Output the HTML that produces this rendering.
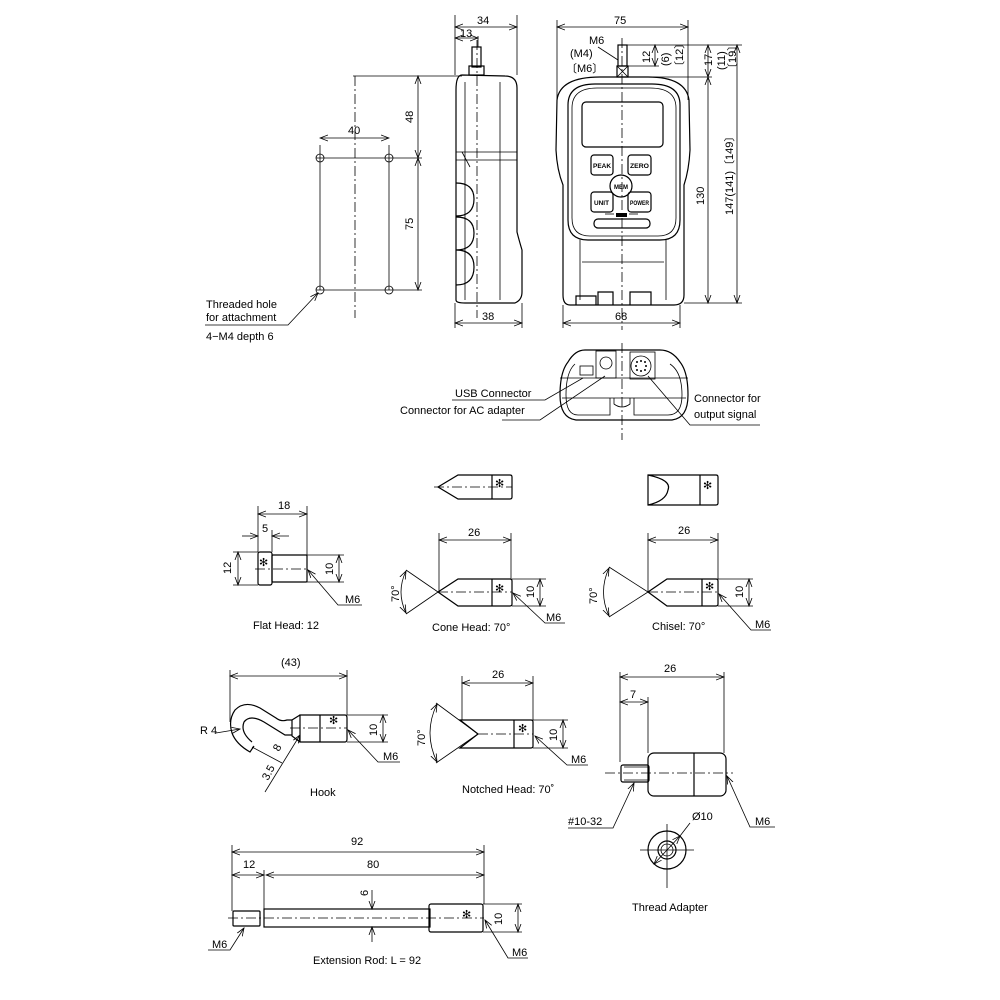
<!DOCTYPE html>
<html><head><meta charset="utf-8"><style>
html,body{margin:0;padding:0;background:#fff}
svg{display:block}
text{font-family:"Liberation Sans",sans-serif;font-size:11px;fill:#000}
.s{stroke:#000;stroke-width:1.2;fill:none}
.t{stroke:#000;stroke-width:0.8;fill:none}
.c{stroke:#000;stroke-width:0.8;fill:none;stroke-dasharray:10 3 2 3}
.d{stroke:#000;stroke-width:0.8;fill:none;marker-start:url(#a);marker-end:url(#a)}
.e{stroke:#000;stroke-width:0.8;fill:none;marker-end:url(#a)}
.b{font-size:6px;font-weight:bold}
</style></head><body>
<svg width="1000" height="1000" viewBox="0 0 1000 1000" xmlns="http://www.w3.org/2000/svg">
<defs><marker id="a" markerWidth="9" markerHeight="7" refX="8" refY="3.5" orient="auto-start-reverse" markerUnits="userSpaceOnUse"><path d="M0,0.5 L8,3.5 L0,6.5" fill="none" stroke="#000" stroke-width="0.8"/></marker></defs>

<!-- ===== Mount pattern ===== -->
<line class="t" x1="353" y1="76" x2="462" y2="76"/>
<line class="c" x1="355" y1="76" x2="355" y2="318"/>
<line class="t" x1="316" y1="158" x2="422" y2="158"/>
<line class="t" x1="316" y1="290" x2="422" y2="290"/>
<line class="t" x1="320" y1="145" x2="320" y2="290"/>
<line class="t" x1="389" y1="145" x2="389" y2="290"/>
<circle class="t" cx="320" cy="158" r="4"/><circle class="t" cx="389" cy="158" r="4"/>
<circle class="t" cx="320" cy="290" r="4"/><circle class="t" cx="389" cy="290" r="4"/>
<line class="d" x1="320" y1="138" x2="389" y2="138"/><text x="348" y="134" font-size="12">40</text>
<line class="d" x1="418" y1="76" x2="418" y2="158"/><text transform="translate(413,123) rotate(-90)" font-size="12">48</text>
<line class="d" x1="418" y1="158" x2="418" y2="290"/><text transform="translate(413,230) rotate(-90)" font-size="12">75</text>
<polyline class="e" points="205,325 288,325 318,293"/>
<text x="206" y="308">Threaded hole</text><text x="206" y="321">for attachment</text><text x="206" y="340">4−M4 depth 6</text>

<!-- ===== Side view ===== -->
<path class="s" d="M462,75 Q456,75 456,90 L456,300 Q456,303 465,303 L515,303 Q522,300 522,292 L522,250 Q519,240 517,232 L517,88 Q517,76 505,76 Z"/>
<rect class="s" x="472" y="47" width="9" height="20"/><rect class="s" x="469" y="66" width="15" height="9"/>
<line class="c" x1="477" y1="40" x2="477" y2="318"/>
<line class="t" x1="465" y1="82" x2="465" y2="300"/><line class="t" x1="500" y1="82" x2="500" y2="300"/>
<line class="t" x1="456" y1="152" x2="517" y2="152"/><line class="t" x1="456" y1="160" x2="517" y2="160"/>
<line class="t" x1="462" y1="152" x2="470" y2="167"/>
<path class="s" d="M456,183 Q474,183 474,199 Q474,216 456,216 M456,217 Q474,217 474,233 Q474,250 456,250 M456,250 Q474,250 474,267 Q474,285 456,285"/>
<line class="t" x1="455" y1="15" x2="455" y2="75"/><line class="t" x1="517" y1="15" x2="517" y2="75"/>
<line class="d" x1="455" y1="27" x2="517" y2="27"/><text x="477" y="24" font-size="12">34</text>
<line class="t" x1="478" y1="36" x2="478" y2="47"/>
<line class="d" x1="455" y1="38" x2="478" y2="38"/><text x="460" y="37" font-size="12">13</text>
<line class="t" x1="455" y1="303" x2="455" y2="328"/><line class="t" x1="522" y1="303" x2="522" y2="328"/>
<line class="d" x1="455" y1="323" x2="522" y2="323"/><text x="482" y="320" font-size="12">38</text>

<!-- ===== Front view ===== -->
<path class="s" d="M600,77 L648,77 Q686,77 689,100 L690,150 Q689,170 684,185 L684,295 Q684,305 674,305 L570,305 Q563,305 563,295 L563,185 Q557,170 556,150 L557,100 Q560,77 600,77 Z"/>
<path class="s" d="M595,84 L652,84 Q680,84 680,105 L680,220 Q680,240 660,240 L588,240 Q568,240 568,220 L568,105 Q568,84 595,84 Z"/>
<path class="t" d="M597,88 L650,88 Q676,88 676,108 L676,218 Q676,236 658,236 L590,236 Q572,236 572,218 L572,108 Q572,88 597,88 Z"/>
<rect class="s" x="582" y="102" width="81" height="45" rx="4"/>
<rect class="s" x="591" y="155" width="22" height="20" rx="3"/><text x="593" y="168" class="b" textLength="18" lengthAdjust="spacingAndGlyphs">PEAK</text>
<rect class="s" x="628" y="155" width="23" height="20" rx="3"/><text x="630" y="168" class="b" textLength="19" lengthAdjust="spacingAndGlyphs">ZERO</text>
<circle class="s" cx="621" cy="186" r="11" fill="#fff"/><text x="614" y="189" class="b" textLength="14" lengthAdjust="spacingAndGlyphs">MEM</text>
<rect class="s" x="591" y="192" width="22" height="20" rx="3"/><text x="594" y="205" class="b" textLength="15" lengthAdjust="spacingAndGlyphs">UNIT</text>
<rect class="s" x="628" y="192" width="23" height="20" rx="3"/><text x="630" y="205" class="b" textLength="19" lengthAdjust="spacingAndGlyphs">POWER</text>
<rect x="616" y="213" width="11" height="4" fill="#000"/>
<line class="t" x1="605" y1="214" x2="614" y2="214"/><line class="t" x1="629" y1="214" x2="638" y2="214"/>
<rect class="s" x="594" y="219" width="56" height="9" rx="4"/>
<path class="t" d="M580,240 L580,300 M666,240 L666,300 M582,262 L664,262"/>
<path class="s" d="M576,305 L576,296 L596,296 L596,305 M598,305 L598,292 L613,292 L613,305 M630,305 L630,292 L651,292 L651,305"/>
<rect class="s" x="618" y="45" width="9" height="21"/><rect class="s" x="617" y="66" width="11" height="11"/>
<path class="t" d="M617,66 L628,77 M628,66 L617,77"/>
<line class="c" x1="622" y1="38" x2="622" y2="330"/>
<line class="t" x1="557" y1="20" x2="557" y2="100"/><line class="t" x1="688" y1="20" x2="688" y2="100"/>
<line class="d" x1="557" y1="27" x2="688" y2="27"/><text x="614" y="24" font-size="12">75</text>
<text x="589" y="44" font-size="12">M6</text><line class="t" x1="598" y1="47" x2="618" y2="60"/>
<text x="570" y="57" font-size="12">(M4)</text><text x="566" y="72" font-size="12">〔M6〕</text>
<line class="t" x1="627" y1="45" x2="742" y2="45"/><line class="t" x1="630" y1="77" x2="712" y2="77"/>
<line class="d" x1="655" y1="45" x2="655" y2="66"/><line class="t" x1="627" y1="66" x2="659" y2="66"/>
<text transform="translate(650,63) rotate(-90)" font-size="11">12</text>
<text transform="translate(669,66) rotate(-90)" font-size="11">(6)</text>
<text transform="translate(683,72) rotate(-90)" font-size="11">〔12〕</text>
<line class="d" x1="708" y1="45" x2="708" y2="77"/>
<text transform="translate(712,66) rotate(-90)" font-size="11">17</text>
<text transform="translate(725,70) rotate(-90)" font-size="11">(11)</text>
<text transform="translate(736,74) rotate(-90)" font-size="11">〔19〕</text>
<line class="d" x1="708" y1="77" x2="708" y2="303"/>
<text transform="translate(704,205) rotate(-90)" font-size="12">130</text>
<line class="d" x1="737" y1="45" x2="737" y2="303"/>
<text transform="translate(733,215) rotate(-90)" font-size="12">147(141)〔149〕</text>
<line class="t" x1="684" y1="303" x2="742" y2="303"/>
<line class="t" x1="563" y1="305" x2="563" y2="328"/><line class="t" x1="680" y1="305" x2="680" y2="328"/>
<line class="d" x1="563" y1="323" x2="680" y2="323"/><text x="615" y="320" font-size="12">68</text>

<!-- ===== Bottom view ===== -->
<path class="s" d="M585,350 L660,350 Q672,350 680,362 Q688,372 688,395 Q688,418 672,420 L576,420 Q560,418 560,395 Q560,372 568,362 Q575,350 585,350 Z"/>
<path class="t" d="M575,364 Q566,372 566,395 Q566,415 578,415 L610,415 L610,398 M670,364 Q682,372 682,395 Q682,415 668,415 L634,415 L634,398 M560,378 L688,378 M562,398 L686,398"/>
<path class="t" d="M614,398 L614,404 Q622,410 630,404 L630,398"/>
<rect class="t" x="580" y="366" width="13" height="9"/><rect class="t" x="596" y="351" width="20" height="27"/>
<circle class="t" cx="606" cy="363" r="6"/>
<rect class="t" x="630" y="352" width="25" height="27"/><circle class="t" cx="641" cy="366" r="10"/>
<g fill="#000"><circle cx="637" cy="362" r="1"/><circle cx="641" cy="361" r="1"/><circle cx="645" cy="362" r="1"/><circle cx="636" cy="366" r="1"/><circle cx="646" cy="366" r="1"/><circle cx="637" cy="370" r="1"/><circle cx="641" cy="371" r="1"/><circle cx="645" cy="370" r="1"/></g>
<line class="c" x1="622" y1="343" x2="622" y2="440"/>
<text x="455" y="397" font-size="12">USB Connector</text><text x="400" y="414" font-size="12">Connector for AC adapter</text>
<polyline class="t" points="452,400 545,400 583,378"/>
<polyline class="t" points="502,420 540,420 605,376"/>
<text x="694" y="402" font-size="12">Connector for</text><text x="694" y="418" font-size="12">output signal</text>
<polyline class="t" points="648,376 690,425 760,425"/>

<!-- ===== Flat Head ===== -->
<rect class="s" x="258" y="552" width="14" height="33" rx="2"/>
<rect class="s" x="272" y="555" width="35" height="27" rx="1"/>
<line class="c" x1="255" y1="569" x2="307" y2="569"/>
<text x="259" y="566" font-size="12">✻</text>
<line class="t" x1="258" y1="506" x2="258" y2="552"/><line class="t" x1="307" y1="506" x2="307" y2="555"/><line class="t" x1="272" y1="530" x2="272" y2="552"/>
<line class="d" x1="258" y1="514" x2="307" y2="514"/><text x="278" y="509" font-size="12">18</text>
<line class="e" x1="242" y1="536" x2="258" y2="536"/><line class="e" x1="289" y1="536" x2="272" y2="536"/><text x="262" y="532" font-size="12">5</text>
<line class="t" x1="233" y1="552" x2="258" y2="552"/><line class="t" x1="233" y1="585" x2="258" y2="585"/>
<line class="d" x1="238" y1="552" x2="238" y2="585"/><text transform="translate(231,574) rotate(-90)" font-size="12">12</text>
<line class="t" x1="307" y1="555" x2="344" y2="555"/><line class="t" x1="307" y1="582" x2="344" y2="582"/>
<line class="d" x1="339" y1="555" x2="339" y2="582"/><text transform="translate(333,575) rotate(-90)" font-size="12">10</text>
<polyline class="e" points="362,605 338,605 308,570"/><text x="345" y="603" font-size="11">M6</text>
<text x="253" y="629" font-size="10.5">Flat Head:  12</text>

<!-- ===== Cone Head ===== -->
<path class="s" d="M438,487 L458,475 L510,475 Q512,475 512,477 L512,497 Q512,499 510,499 L458,499 Z M492,475 L492,499"/>
<line class="c" x1="434" y1="487" x2="512" y2="487"/><text x="495" y="487" font-size="11">✻</text>
<path class="s" d="M438,592 L458,579 L510,579 Q512,579 512,581 L512,604 Q512,606 510,606 L458,606 Z M492,579 L492,606"/>
<line class="c" x1="438" y1="592" x2="512" y2="592"/><text x="495" y="592" font-size="11">✻</text>
<line class="t" x1="439" y1="533" x2="439" y2="592"/><line class="t" x1="511" y1="533" x2="511" y2="579"/>
<line class="d" x1="439" y1="540" x2="511" y2="540"/><text x="468" y="536" font-size="12">26</text>
<line class="t" x1="512" y1="579" x2="546" y2="579"/><line class="t" x1="512" y1="606" x2="546" y2="606"/>
<line class="d" x1="540" y1="579" x2="540" y2="606"/><text transform="translate(534,598) rotate(-90)" font-size="12">10</text>
<path class="t" d="M438,592 L406,570 M438,592 L406,614"/>
<path class="d" d="M406,571 Q396,592 406,613"/><text transform="translate(399,602) rotate(-90)" font-size="12">70°</text>
<polyline class="e" points="565,623 545,623 513,593"/><text x="546" y="621" font-size="11">M6</text>
<text x="432" y="631" font-size="10.5">Cone Head: 70°</text>

<!-- ===== Chisel ===== -->
<path class="s" d="M648,475 L716,475 Q718,475 718,477 L718,503 Q718,505 716,505 L648,505 Z M700,475 L700,505"/>
<path class="s" d="M648,475 Q672,480 668,490 Q666,501 648,505"/><text x="703" y="489" font-size="11">✻</text>
<path class="s" d="M648,592 L667,579 L716,579 Q718,579 718,581 L718,604 Q718,606 716,606 L667,606 Z M702,579 L702,606"/>
<line class="c" x1="648" y1="592" x2="718" y2="592"/><text x="705" y="590" font-size="11">✻</text>
<line class="t" x1="648" y1="533" x2="648" y2="592"/><line class="t" x1="718" y1="533" x2="718" y2="579"/>
<line class="d" x1="648" y1="540" x2="718" y2="540"/><text x="678" y="534" font-size="12">26</text>
<line class="t" x1="718" y1="579" x2="753" y2="579"/><line class="t" x1="718" y1="606" x2="753" y2="606"/>
<line class="d" x1="749" y1="579" x2="749" y2="606"/><text transform="translate(743,598) rotate(-90)" font-size="12">10</text>
<path class="t" d="M648,592 L609,567 M648,592 L609,617"/>
<path class="d" d="M609,568 Q598,592 609,616"/><text transform="translate(597,604) rotate(-90)" font-size="12">70°</text>
<polyline class="e" points="771,630 751,630 719,594"/><text x="755" y="628" font-size="11">M6</text>
<text x="652" y="630" font-size="10.5">Chisel: 70°</text>

<!-- ===== Hook ===== -->
<path class="s" d="M300,715 L345,715 Q347,715 347,718 L347,739 Q347,742 345,742 L300,742 Z M320,715 L320,742"/>
<path class="s" d="M300,715 L292,720 L292,736 L300,742"/>
<path class="s" d="M292,720 L287,720 Q281,722 276,718 L260,708 Q245,700 235,710 Q228,720 232,733 Q236,744 250,752 L254,746 M292,735 L285,735 L264,722 Q250,714 244,722 Q240,732 252,742"/>
<text x="329" y="724" font-size="11">✻</text>
<line class="c" x1="290" y1="728" x2="347" y2="728"/>
<line class="t" x1="230" y1="670" x2="230" y2="722"/><line class="t" x1="347" y1="670" x2="347" y2="715"/>
<line class="d" x1="230" y1="676" x2="347" y2="676"/><text x="281" y="666" font-size="11">(43)</text>
<line class="t" x1="347" y1="715" x2="388" y2="715"/><line class="t" x1="347" y1="742" x2="388" y2="742"/>
<line class="d" x1="383" y1="715" x2="383" y2="742"/><text transform="translate(377,736) rotate(-90)" font-size="12">10</text>
<text x="200" y="734" font-size="11">R 4</text><line class="e" x1="216" y1="733" x2="240" y2="729"/>
<line class="t" x1="252" y1="747" x2="282" y2="763"/>
<line class="e" x1="265" y1="792" x2="300" y2="735"/>
<text transform="translate(279,752) rotate(-62)" font-size="11">8</text>
<text transform="translate(268,781) rotate(-62)" font-size="10">3.5</text>
<polyline class="e" points="400,762 378,762 348,730"/><text x="383" y="760" font-size="11">M6</text>
<text x="310" y="796" font-size="10.5">Hook</text>

<!-- ===== Notched Head ===== -->
<path class="s" d="M460,720 L531,720 Q533,720 533,722 L533,746 Q533,748 531,748 L460,748 L478,734 Z M514,720 L514,748"/>
<line class="c" x1="478" y1="734" x2="533" y2="734"/><text x="518" y="732" font-size="11">✻</text>
<line class="t" x1="462" y1="676" x2="462" y2="720"/><line class="t" x1="533" y1="676" x2="533" y2="720"/>
<line class="d" x1="462" y1="683" x2="533" y2="683"/><text x="492" y="678" font-size="12">26</text>
<line class="t" x1="533" y1="720" x2="568" y2="720"/><line class="t" x1="533" y1="748" x2="568" y2="748"/>
<line class="d" x1="563" y1="720" x2="563" y2="748"/><text transform="translate(557,741) rotate(-90)" font-size="12">10</text>
<path class="t" d="M478,734 L436,703 M478,734 L436,763"/>
<path class="d" d="M437,704 Q423,733 437,762"/><text transform="translate(425,746) rotate(-90)" font-size="12">70°</text>
<polyline class="e" points="588,765 567,765 535,736"/><text x="571" y="763" font-size="11">M6</text>
<text x="462" y="793" font-size="10.5">Notched Head: 70˚</text>

<!-- ===== Thread Adapter ===== -->
<rect class="s" x="621" y="765" width="28" height="17" rx="2"/>
<line class="t" x1="624" y1="767" x2="649" y2="767"/><line class="t" x1="624" y1="780" x2="649" y2="780"/>
<rect class="s" x="648" y="753" width="78" height="43" rx="6"/><line class="s" x1="694" y1="753" x2="694" y2="796"/>
<line class="c" x1="605" y1="773" x2="733" y2="773"/>
<line class="t" x1="620" y1="672" x2="620" y2="762"/><line class="t" x1="724" y1="672" x2="724" y2="753"/><line class="t" x1="648" y1="697" x2="648" y2="753"/>
<line class="d" x1="620" y1="677" x2="724" y2="677"/><text x="664" y="672" font-size="12">26</text>
<line class="d" x1="620" y1="702" x2="648" y2="702"/><text x="630" y="698" font-size="12">7</text>
<polyline class="e" points="568,828 613,828 634,783"/><text x="568" y="825" font-size="11">#10-32</text>
<polyline class="e" points="775,827 750,827 727,776"/><text x="755" y="825" font-size="11">M6</text>
<circle class="s" cx="667" cy="850" r="19"/><circle class="s" cx="667" cy="850" r="9"/><circle class="t" cx="667" cy="850" r="6"/>
<line class="t" x1="640" y1="850" x2="694" y2="850"/><line class="t" x1="667" y1="824" x2="667" y2="888"/>
<line class="d" x1="654" y1="864" x2="680" y2="836"/><line class="t" x1="680" y1="836" x2="690" y2="823"/>
<text x="692" y="820" font-size="11">Ø10</text>
<text x="632" y="911" font-size="10.5">Thread Adapter</text>

<!-- ===== Extension Rod ===== -->
<rect class="s" x="233" y="911" width="27" height="15" rx="1"/>
<rect class="s" x="264" y="909" width="166" height="18"/>
<rect class="s" x="429" y="904" width="54" height="28" rx="2"/>
<line class="c" x1="228" y1="918" x2="484" y2="918"/><text x="462" y="918" font-size="11">✻</text>
<line class="t" x1="232" y1="845" x2="232" y2="911"/><line class="t" x1="484" y1="845" x2="484" y2="904"/><line class="t" x1="264" y1="870" x2="264" y2="909"/>
<line class="d" x1="232" y1="852" x2="484" y2="852"/><text x="351" y="845" font-size="12">92</text>
<line class="d" x1="232" y1="875" x2="264" y2="875"/><text x="243" y="868" font-size="12">12</text>
<line class="d" x1="266" y1="875" x2="484" y2="875"/><text x="367" y="868" font-size="12">80</text>
<line class="e" x1="372" y1="890" x2="372" y2="909"/><line class="e" x1="372" y1="942" x2="372" y2="927"/>
<text transform="translate(368,896) rotate(-90)" font-size="11">6</text>
<line class="t" x1="483" y1="904" x2="522" y2="904"/><line class="t" x1="483" y1="932" x2="522" y2="932"/>
<line class="d" x1="518" y1="904" x2="518" y2="932"/><text transform="translate(502,925) rotate(-90)" font-size="12">10</text>
<polyline class="e" points="208,950 230,950 244,928"/><text x="212" y="948" font-size="11">M6</text>
<polyline class="e" points="528,958 508,958 485,920"/><text x="512" y="956" font-size="11">M6</text>
<text x="313" y="964" font-size="10.5">Extension Rod: L = 92</text>
</svg>
</body></html>
